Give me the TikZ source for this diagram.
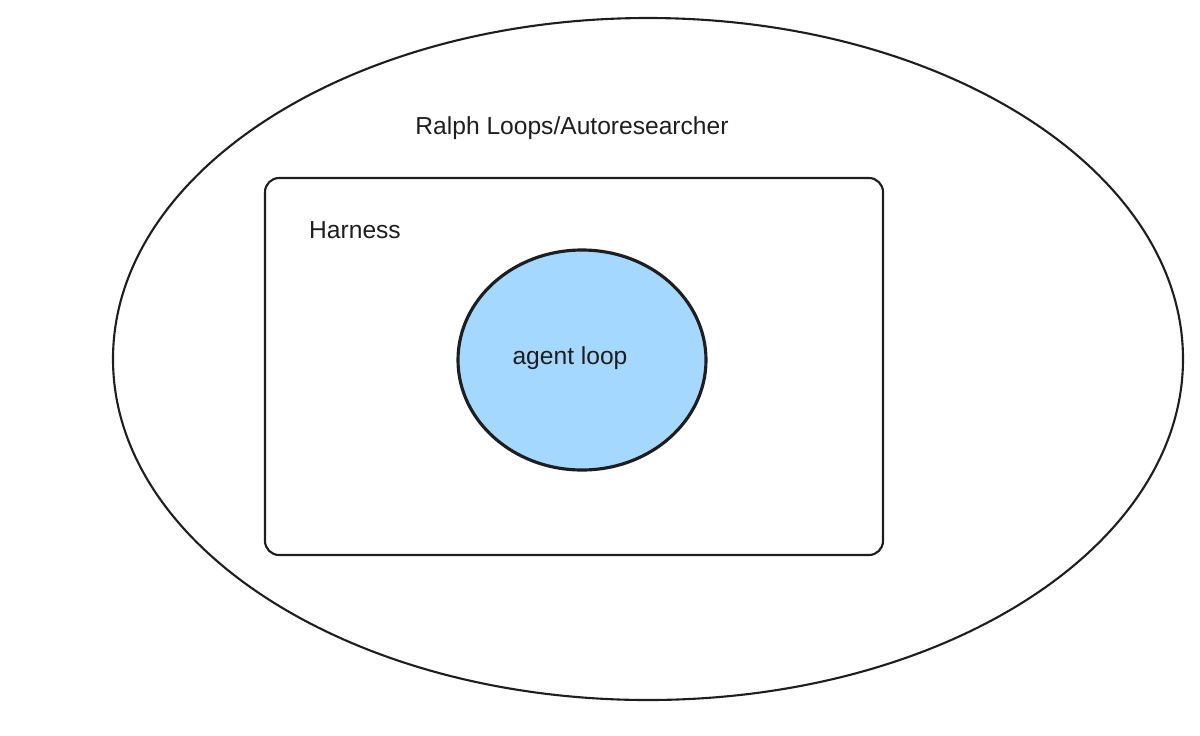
\documentclass[tikz,border=0pt]{standalone}
\usepackage{fontspec}
\setmainfont{Liberation Sans}
\definecolor{loopblue}{HTML}{A5D8FF}
\definecolor{ink}{HTML}{1E1E1E}
\begin{document}
\begin{tikzpicture}[x=0.02cm,y=-0.02cm,
sketch/.style={%
draw=ink,
line width=1.2pt
},
lbl/.style={%
font=\fontsize{14}{16}\selectfont,
text=ink
}
]
\useasboundingbox (0,0) rectangle (1200,735);
%% Outer loop
\draw[sketch](648,359) ellipse [x radius=535, y radius=341];
\node[lbl]at(572,128)(ralph){Ralph Loops/Autoresearcher};
%% Harness
\draw[sketch,rounded corners=8pt](265,178) rectangle (883,555);
\node[lbl]at(355,230)(harness){Harness};
%% Agent loop
\draw[sketch,line width=1.8pt,fill=loopblue](582,360) ellipse [x radius=124, y radius=110];
\node[lbl]at(570,358)(agent){agent loop};
\end{tikzpicture}
\end{document}
